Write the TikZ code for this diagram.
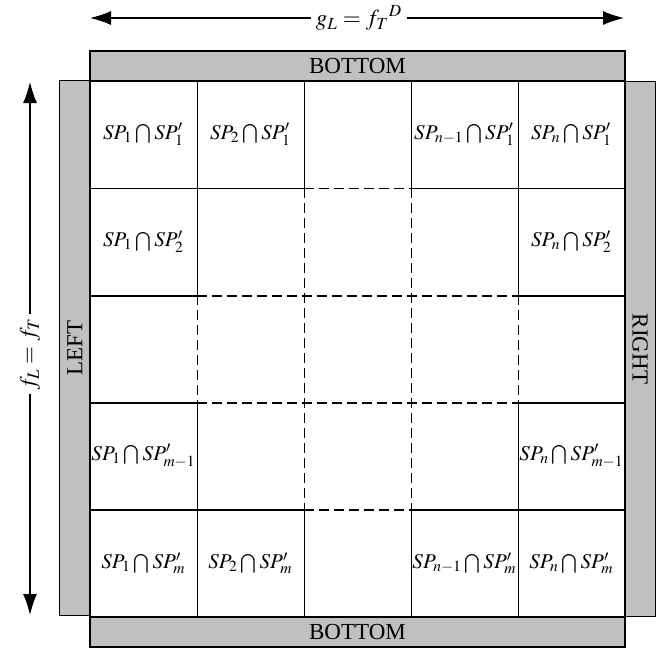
\documentclass[tikz,border=0pt]{standalone}
\usepackage{mathptmx}
\usepackage[no-math]{fontspec}
\setmainfont{Liberation Serif}
\usepackage{tikz}
\usetikzlibrary{arrows.meta}
\definecolor{BarGray}{HTML}{C0C0C0}
\newcommand{\inter}{\mathbin{\textstyle\bigcap}}

\begin{document}
\begin{tikzpicture}[
    x=0.5pt, y=-0.5pt,
    every node/.style={font=\fontsize{11.5}{14}\selectfont},
    bar/.style={draw, fill=BarGray, line width=0.8pt, inner sep=0pt,
                minimum width=267.5pt, minimum height=15.25pt},
    cell/.style={minimum width=53.5pt, minimum height=53.6pt, inner sep=0pt,
                 font=\fontsize{10.5}{13}\selectfont},
    solidl/.style={line width=0.8pt},
    dashl/.style={line width=0.8pt, dash pattern=on 5pt off 2.5pt},
    dim/.style={-{Latex[length=10.5pt,width=7pt]}, line width=0.6pt},
    lab/.style={fill=white, inner sep=2pt},
]
\useasboundingbox (0,0) rectangle (671,650);

%% Side bars
\node[bar]            (btop)  at (357.5,66)   {BOTTOM};
\node[bar]            (bbot)  at (357.5,632)  {BOTTOM};
\node[bar, rotate=90] (left)  at (74.75,348)  {LEFT};
\node[bar, rotate=-90](right) at (640.25,349) {RIGHT};

%% Cells
\foreach \r/\c/\txt in {
    1/1/{$SP_1\inter SP_1'$}, 1/2/{$SP_2\inter SP_1'$}, 1/3/{},
    1/4/{$SP_{n-1}\inter SP_1'$}, 1/5/{$SP_n\inter SP_1'$},
    2/1/{$SP_1\inter SP_2'$}, 2/2/{}, 2/3/{}, 2/4/{}, 2/5/{$SP_n\inter SP_2'$},
    3/1/{}, 3/2/{}, 3/3/{}, 3/4/{}, 3/5/{},
    4/1/{$SP_1\inter SP_{m-1}'$}, 4/2/{}, 4/3/{}, 4/4/{}, 4/5/{$SP_n\inter SP_{m-1}'$},
    5/1/{$SP_1\inter SP_m'$}, 5/2/{$SP_2\inter SP_m'$}, 5/3/{},
    5/4/{$SP_{n-1}\inter SP_m'$}, 5/5/{$SP_n\inter SP_m'$}}
  \node[cell] (c\r\c) at ({90+107*(\c-0.5)},{81+107.2*(\r-0.5)}) {\txt};

%% Grid lines
\draw[solidl] (c11.north west) rectangle (c55.south east);
% horizontal
\draw[solidl] (c11.south west) -- (c12.south east) (c14.south west) -- (c15.south east);
\draw[dashl]  (c13.south west) -- (c13.south east);
\draw[solidl] (c21.south west) -- (c21.south east) (c25.south west) -- (c25.south east);
\draw[dashl]  (c22.south west) -- (c24.south east);
\draw[solidl] (c31.south west) -- (c31.south east) (c35.south west) -- (c35.south east);
\draw[dashl]  (c32.south west) -- (c34.south east);
\draw[solidl] (c41.south west) -- (c42.south east) (c44.south west) -- (c45.south east);
\draw[dashl]  (c43.south west) -- (c43.south east);
% vertical
\draw[solidl] (c11.north east) -- (c21.south east) (c41.north east) -- (c51.south east);
\draw[dashl]  (c31.north east) -- (c31.south east);
\draw[solidl] (c12.north east) -- (c12.south east) (c52.north east) -- (c52.south east);
\draw[dashl]  (c22.north east) -- (c42.south east);
\draw[solidl] (c13.north east) -- (c13.south east) (c53.north east) -- (c53.south east);
\draw[dashl]  (c23.north east) -- (c43.south east);
\draw[solidl] (c14.north east) -- (c24.south east) (c44.north east) -- (c54.south east);
\draw[dashl]  (c34.north east) -- (c34.south east);

%% Dimension arrows
\coordinate (gl) at (90,18);
\coordinate (gr) at (624,18);
\node[lab] (glab) at (359,18) {$g_L = {f_T}^D$};
\draw[dim] (glab) -- (gl);
\draw[dim] (glab) -- (gr);

\coordinate (ft) at (30,82);
\coordinate (fb) at (30,615);
\node[lab, rotate=90] (flab) at (30,354) {$f_L = f_T$};
\draw[dim] (flab) -- (ft);
\draw[dim] (flab) -- (fb);

\end{tikzpicture}
\end{document}
